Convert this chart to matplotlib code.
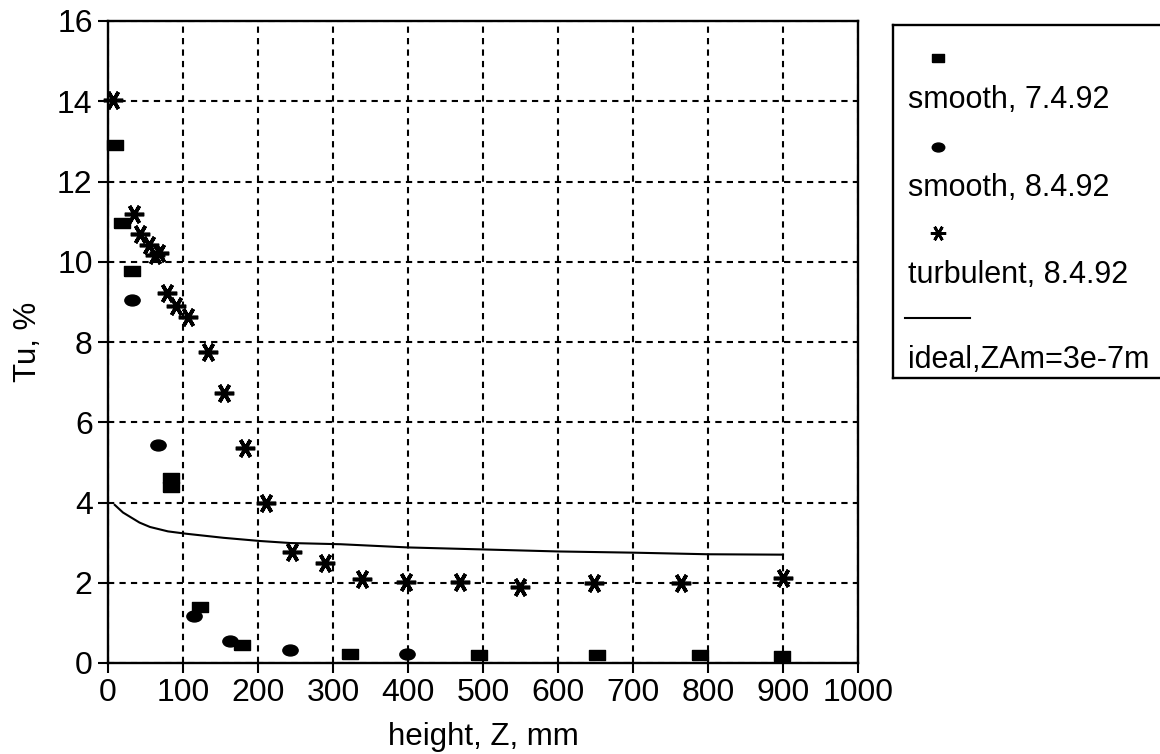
import numpy as np
import matplotlib
matplotlib.use('Agg')
import matplotlib.pyplot as plt
from matplotlib.path import Path

plt.rcParams['font.family'] = ['Liberation Sans', 'DejaVu Sans']

# smooth, 7.4.92 (square markers)
x_s7 = [9, 18, 32, 84, 84, 123, 179, 323, 495, 652, 789, 899]
y_s7 = [12.9, 10.97, 9.77, 4.6, 4.38, 1.40, 0.44, 0.22, 0.21, 0.21, 0.20, 0.18]

# smooth, 8.4.92 (rounded markers)
x_s8 = [32, 67, 114, 163, 242, 399]
y_s8 = [9.04, 5.43, 1.17, 0.56, 0.32, 0.23]

# turbulent, 8.4.92 (asterisks)
x_tb = [7, 35, 43, 54, 62, 68, 78, 91, 107, 133, 154, 182, 211, 245, 289,
        339, 397, 469, 549, 648, 764, 900]
y_tb = [14.04, 11.18, 10.70, 10.41, 10.18, 10.23, 9.22, 8.89, 8.62, 7.76, 6.74,
        5.36, 3.99, 2.77, 2.50, 2.09, 2.02, 2.02, 1.90, 2.00, 2.00, 2.13]

# ideal curve
x_id = [9, 20, 42, 56, 80, 105, 154, 203, 243, 310, 400, 500, 600, 700, 800, 900]
y_id = [3.94, 3.75, 3.50, 3.39, 3.28, 3.22, 3.12, 3.04, 2.99, 2.96, 2.88, 2.83,
        2.78, 2.75, 2.71, 2.70]

labels = ['smooth, 7.4.92', 'smooth, 8.4.92', 'turbulent, 8.4.92', 'ideal,ZAm=3e-7m']
xticks = list(range(0, 1001, 100))
yticks = list(range(0, 17, 2))

W, H = 1160, 754
fig = plt.figure(figsize=(11.6, 7.54), dpi=100)
ax = fig.add_axes([108 / W, 1 - 663 / H, (858 - 108) / W, (663 - 21) / H])

# marker shapes
rect = [(-1.4, -1), (1.4, -1), (1.4, 1), (-1.4, 1), (-1.4, -1)]
circ = Path.unit_circle()
ell = Path(circ.vertices * np.array([1.4, 1.0]), circ.codes)
star = (6, 2, 90)

ax.plot(x_id, y_id, color='black', lw=1.5, zorder=3)
ax.plot(x_s7, y_s7, ls='none', marker=rect, ms=11, color='black', zorder=4, clip_on=False)
ax.plot(x_s8, y_s8, ls='none', marker=ell, ms=11, color='black', zorder=4, clip_on=False)
ax.plot(x_tb, y_tb, ls='none', marker=star, ms=14, mew=2.6, color='black', zorder=4, clip_on=False)

ax.set_xlim(0, 1000)
ax.set_ylim(0, 16)
ax.set_xticks(xticks)
ax.set_yticks(yticks)
ax.grid(True, color='black', linestyle=(0, (3, 2.5)), lw=1.5)
ax.set_axisbelow(True)
ax.tick_params(direction='out', length=7, width=1.5, labelsize=23, pad=4, colors='black')
for s in ax.spines.values():
    s.set_linewidth(1.7)
    s.set_color('black')

ax.set_xlabel('height, Z, mm', fontsize=22.5, labelpad=10)
ax.set_ylabel('Tu, %', fontsize=22.5, labelpad=10)

# legend box: markers on their own line above each label
lax = fig.add_axes([893 / W, 1 - 378 / H, (1200 - 893) / W, (378 - 25) / H])
lax.set_xlim(893, 1200)
lax.set_ylim(378, 25)
lax.set_xticks([])
lax.set_yticks([])
for s in lax.spines.values():
    s.set_linewidth(1.7)

lax.plot([938], [58], marker=rect, ms=9, color='black', ls='none')
lax.text(908, 100, labels[0], fontsize=22, va='center', ha='left')
lax.plot([938], [147], marker=ell, ms=9, color='black', ls='none')
lax.text(908, 188, labels[1], fontsize=22, va='center', ha='left')
lax.plot([938], [233], marker=star, ms=11, mew=2, color='black', ls='none')
lax.text(908, 275, labels[2], fontsize=22, va='center', ha='left')
lax.plot([905, 970], [318, 318], color='black', lw=1.5)
lax.text(908, 360, labels[3], fontsize=22, va='center', ha='left')

fig.savefig('out.png', dpi=100)
